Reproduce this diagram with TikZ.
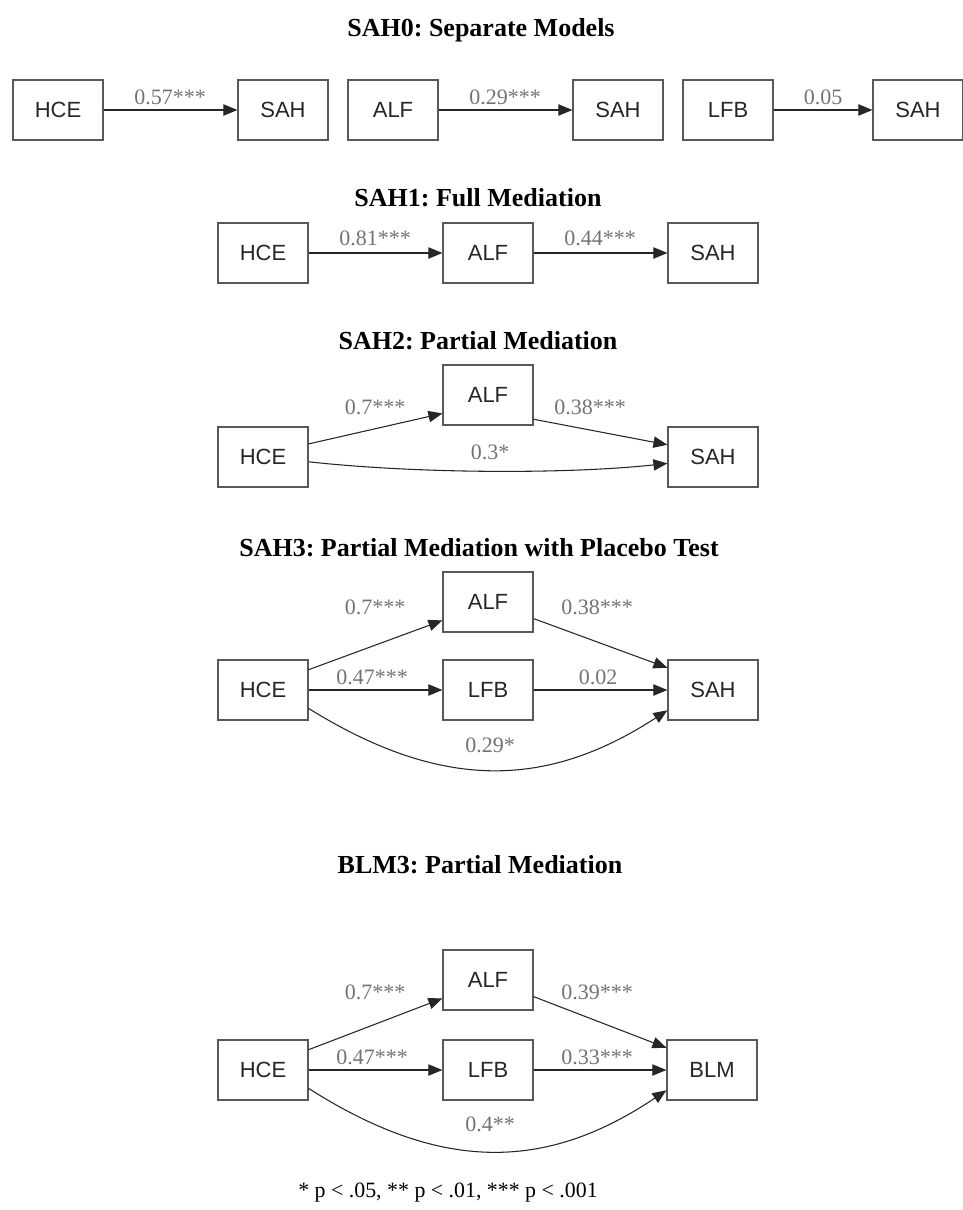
\documentclass[tikz,border=0pt]{standalone}
\usepackage{fontspec}
\setmainfont{Liberation Serif}
\newfontfamily\boxfont{Liberation Sans}
\usetikzlibrary{arrows.meta}
\frenchspacing
\tikzset{
  box/.style={draw=black!65, line width=0.9pt, minimum width=67.5pt, minimum height=45pt, inner sep=0pt, font=\boxfont\fontsize{16.5}{18}\selectfont, text=black!85},
  lbl/.style={inner sep=0pt, text=black!55, font=\fontsize{16.5}{18}\selectfont},
  ttl/.style={inner sep=0pt, font=\bfseries\fontsize{19.5}{22}\selectfont},
  edge/.style={draw=black!85, line width=0.8pt, -{Triangle[length=10.5pt,width=8.5pt]}},
}
\begin{document}
\begin{tikzpicture}[x=0.75pt,y=-0.75pt]
\useasboundingbox (0,0) rectangle (963,1210);
% ---------- SAH0
\node[ttl] (t0) at (481,30) {SAH0: Separate Models};
\node[box] (h0) at (58,110) {HCE};
\node[box] (s0a) at (283,110) {SAH};
\node[box] (a0) at (393,110) {ALF};
\node[box] (s0b) at (618,110) {SAH};
\node[box] (l0) at (728,110) {LFB};
\node[box] (s0c) at (918,110) {SAH};
\draw[edge] (h0) -- (s0a);
\draw[edge] (a0) -- (s0b);
\draw[edge] (l0) -- (s0c);
\node[lbl] (e01) at (170,97) {0.57***};
\node[lbl] (e02) at (505,97) {0.29***};
\node[lbl] (e03) at (823,97) {0.05};
% ---------- SAH1
\node[ttl] (t1) at (478,198) {SAH1: Full Mediation};
\node[box] (h1) at (263,253) {HCE};
\node[box] (a1) at (488,253) {ALF};
\node[box] (s1) at (713,253) {SAH};
\draw[edge] (h1) -- (a1);
\draw[edge] (a1) -- (s1);
\node[lbl] (e11) at (375,238) {0.81***};
\node[lbl] (e12) at (600,238) {0.44***};
% ---------- SAH2
\node[ttl] (t2) at (478,341) {SAH2: Partial Mediation};
\node[box] (h2) at (263,457) {HCE};
\node[box] (a2) at (488,395) {ALF};
\node[box] (s2) at (713,457) {SAH};
\draw[edge] (h2.16) -- (a2.202);
\draw[edge] (a2.-28) -- (s2.165);
\draw[edge] (h2.-6) .. controls (420,474) and (570,474) .. (s2.188);
\node[lbl] (e21) at (375,407) {0.7***};
\node[lbl] (e22) at (590,407) {0.38***};
\node[lbl] (e23) at (490,452) {0.3*};
% ---------- SAH3
\node[ttl] (t3) at (479,548) {SAH3: Partial Mediation with Placebo Test};
\node[box] (h3) at (263,690) {HCE};
\node[box] (a3) at (488,602) {ALF};
\node[box] (l3) at (488,690) {LFB};
\node[box] (s3) at (713,690) {SAH};
\draw[edge] (h3.24) -- (a3.202);
\draw[edge] (a3.-20) -- (s3.154);
\draw[edge] (h3) -- (l3);
\draw[edge] (l3) -- (s3);
\draw[edge] (h3.-22) .. controls (440,790) and (545,790) .. (s3.204);
\node[lbl] (e31) at (375,607) {0.7***};
\node[lbl] (e32) at (597,607) {0.38***};
\node[lbl] (e33) at (372,677) {0.47***};
\node[lbl] (e34) at (598,677) {0.02};
\node[lbl] (e35) at (490,745) {0.29*};
% ---------- BLM3
\node[ttl] (t4) at (480,865) {BLM3: Partial Mediation};
\node[box] (h4) at (263,1070) {HCE};
\node[box] (a4) at (488,980) {ALF};
\node[box] (l4) at (488,1070) {LFB};
\node[box] (b4) at (712,1070) {BLM};
\draw[edge] (h4.24) -- (a4.202);
\draw[edge] (a4.-20) -- (b4.154);
\draw[edge] (h4) -- (l4);
\draw[edge] (l4) -- (b4);
\draw[edge] (h4.-22) .. controls (440,1172) and (545,1172) .. (b4.204);
\node[lbl] (e41) at (375,992) {0.7***};
\node[lbl] (e42) at (597,992) {0.39***};
\node[lbl] (e43) at (372,1057) {0.47***};
\node[lbl] (e44) at (597,1057) {0.33***};
\node[lbl] (e45) at (490,1124) {0.4**};
% ---------- footnote
\node[inner sep=0pt, font=\fontsize{16.4}{18}\selectfont] (fn) at (448,1193) {* p < .05, ** p < .01, *** p < .001};
\end{tikzpicture}
\end{document}
